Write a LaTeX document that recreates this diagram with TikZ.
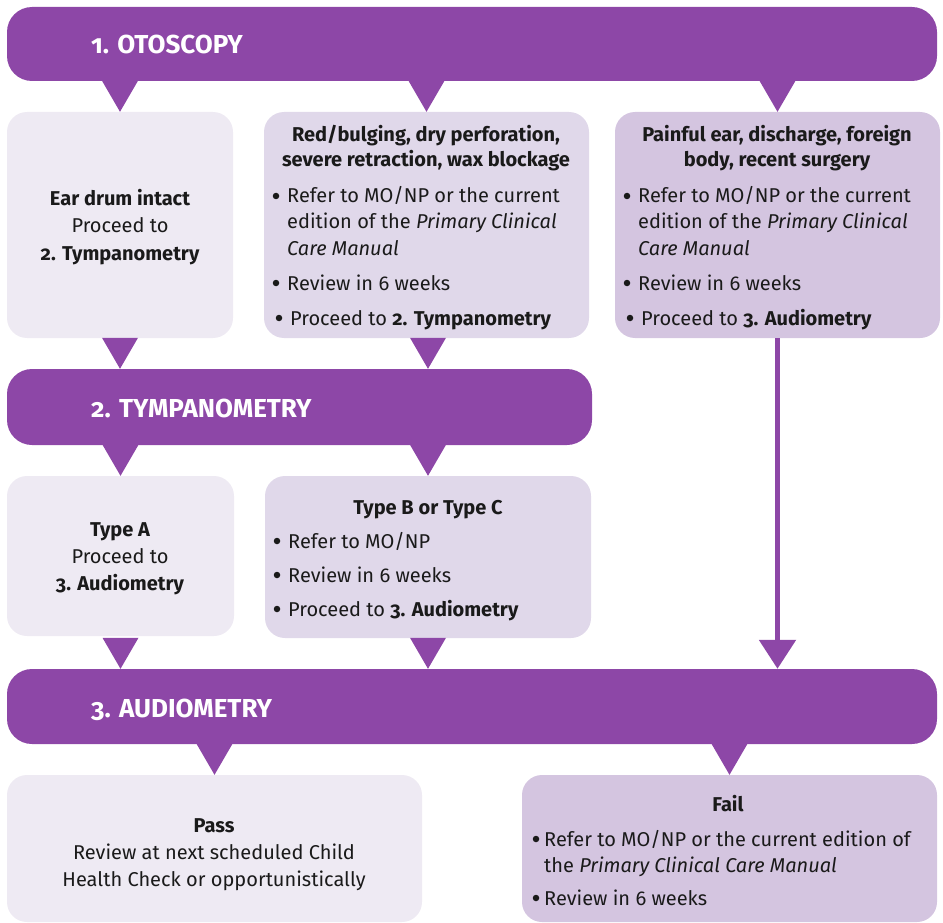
\documentclass[tikz,border=0pt]{standalone}
\usepackage{fontspec}
\setmainfont{Fira Sans}[Numbers=OldStyle]
\usetikzlibrary{arrows.meta}
\definecolor{purp}{HTML}{8D47A7}
\definecolor{boxa}{HTML}{EEEAF3}
\definecolor{boxb}{HTML}{E0D8EA}
\definecolor{boxc}{HTML}{D4C5E0}
\definecolor{ink}{HTML}{1A1A1A}
\begin{document}
\begin{tikzpicture}[x=1pt,y=-1pt,
  hdr/.style={fill=purp, draw=none, rounded corners=25pt, inner sep=0},
  boxnode/.style={draw=none, rounded corners=20pt, inner sep=0},
  hdrtxt/.style={inner sep=0, anchor=base west, text=white, font=\fontsize{26}{30}\selectfont\bfseries},
  txt/.style={inner sep=0, anchor=base, text=ink, font=\fontsize{20}{26}\selectfont},
  btxt/.style={txt, font=\fontsize{20}{26}\selectfont\bfseries},
  ltxt/.style={inner sep=0, anchor=base west, text=ink, font=\fontsize{20}{26}\selectfont},
  dot/.style={circle, fill=ink, draw=none, inner sep=0, minimum size=6.5pt},
  tri/.style={fill=purp, draw=none}
]
\useasboundingbox (0,0) rectangle (943,923);

% headers
\node[hdr, minimum width=930pt, minimum height=74pt] (H1) at (472,44) {};
\node[hdr, minimum width=585pt, minimum height=76pt] (H2) at (299.5,407) {};
\node[hdr, minimum width=930pt, minimum height=75pt] (H3) at (472,706.5) {};

% boxes
\node[boxnode, fill=boxa, minimum width=226pt, minimum height=226pt] (A) at (120,225) {};
\node[boxnode, fill=boxb, minimum width=325pt, minimum height=226pt] (B) at (426.5,225) {};
\node[boxnode, fill=boxc, minimum width=325pt, minimum height=226pt] (C) at (777.5,225) {};
\node[boxnode, fill=boxa, minimum width=227pt, minimum height=160pt] (D) at (120.5,556) {};
\node[boxnode, fill=boxb, minimum width=326pt, minimum height=162pt] (E) at (428,557) {};
\node[boxnode, fill=boxa, minimum width=415pt, minimum height=147pt] (P) at (214.5,848.5) {};
\node[boxnode, fill=boxc, minimum width=415pt, minimum height=147pt] (F) at (729.5,848.5) {};

% triangles
\fill[tri] (A.north) -- ++(-18,-31) -- ++(36,0) -- cycle;
\fill[tri] (B.north) -- ++(-18,-31) -- ++(36,0) -- cycle;
\fill[tri] (C.north) -- ++(-18,-31) -- ++(36,0) -- cycle;
\fill[tri] (H2.north -| A.south) -- ++(-18,-31) -- ++(36,0) -- cycle;
\fill[tri] (H2.north -| E.south) -- ++(-18,-31) -- ++(36,0) -- cycle;
\fill[tri] (D.north) -- ++(-18,-31) -- ++(36,0) -- cycle;
\fill[tri] (E.north) -- ++(-18,-31) -- ++(36,0) -- cycle;
\fill[tri] (H3.north -| D.south) -- ++(-18,-31) -- ++(36,0) -- cycle;
\fill[tri] (H3.north -| E.south) -- ++(-18,-31) -- ++(36,0) -- cycle;
\fill[tri] (P.north) -- ++(-18,-31) -- ++(36,0) -- cycle;
\fill[tri] (F.north) -- ++(-18,-31) -- ++(36,0) -- cycle;

% long arrow
\draw[purp, line width=5.5pt, -{Triangle[width=36pt,length=29pt]}] (C.south) -- (H3.north -| C.south);

% header texts
\node[hdrtxt] (h1t) at (91,54) {1. OTOSCOPY};
\node[hdrtxt] (h2t) at (91,417) {2. TYMPANOMETRY};
\node[hdrtxt] (h3t) at (91,717) {3. AUDIOMETRY};

% box A
\node[btxt] (a1) at (120,205) {Ear drum intact};
\node[txt] (a2) at (120,233) {Proceed to};
\node[btxt] (a3) at (120,260) {2. Tympanometry};

% box B
\node[btxt] (b1) at (426,142) {Red/bulging, dry perforation,};
\node[btxt] (b2) at (426,167) {severe retraction, wax blockage};
\node[dot] (bd1) at (276,196) {};
\node[ltxt] (b3) at (287,203) {Refer to MO/NP or the current};
\node[ltxt] (b4) at (287,229) {edition of the \textit{Primary Clinical}};
\node[ltxt] (b5) at (287,255) {\textit{Care Manual}};
\node[dot] (bd2) at (276,283) {};
\node[ltxt] (b6) at (287,290) {Review in 6 weeks};
\node[dot] (bd3) at (279,318) {};
\node[ltxt] (b7) at (290,325) {Proceed to \textbf{2. Tympanometry}};

% box C
\node[btxt] (c1) at (777,142) {Painful ear, discharge, foreign};
\node[btxt] (c2) at (777,167) {body, recent surgery};
\node[dot] (cd1) at (627,196) {};
\node[ltxt] (c3) at (638,203) {Refer to MO/NP or the current};
\node[ltxt] (c4) at (638,229) {edition of the \textit{Primary Clinical}};
\node[ltxt] (c5) at (638,255) {\textit{Care Manual}};
\node[dot] (cd2) at (627,283) {};
\node[ltxt] (c6) at (638,290) {Review in 6 weeks};
\node[dot] (cd3) at (630,318) {};
\node[ltxt] (c7) at (641,325) {Proceed to \textbf{3. Audiometry}};

% box D
\node[btxt] (d1) at (120,536) {Type A};
\node[txt] (d2) at (120,563) {Proceed to};
\node[btxt] (d3) at (120,590) {3. Audiometry};

% box E
\node[btxt] (e1) at (428,514) {Type B or Type C};
\node[dot] (ed1) at (277,541) {};
\node[ltxt] (e2) at (288,548) {Refer to MO/NP};
\node[dot] (ed2) at (277,575) {};
\node[ltxt] (e3) at (288,582) {Review in 6 weeks};
\node[dot] (ed3) at (277,609) {};
\node[ltxt] (e4) at (288,616) {Proceed to \textbf{3. Audiometry}};

% pass
\node[btxt] (p1) at (214,832) {Pass};
\node[txt] (p2) at (214,859) {Review at next scheduled Child};
\node[txt] (p3) at (214,886) {Health Check or opportunistically};

% fail
\node[btxt] (f1) at (728,811) {Fail};
\node[dot] (fd1) at (536,839) {};
\node[ltxt] (f2) at (544,846) {Refer to MO/NP or the current edition of};
\node[ltxt] (f3) at (544,872) {the \textit{Primary Clinical Care Manual}};
\node[dot] (fd2) at (536,898) {};
\node[ltxt] (f4) at (544,905) {Review in 6 weeks};
\end{tikzpicture}
\end{document}
